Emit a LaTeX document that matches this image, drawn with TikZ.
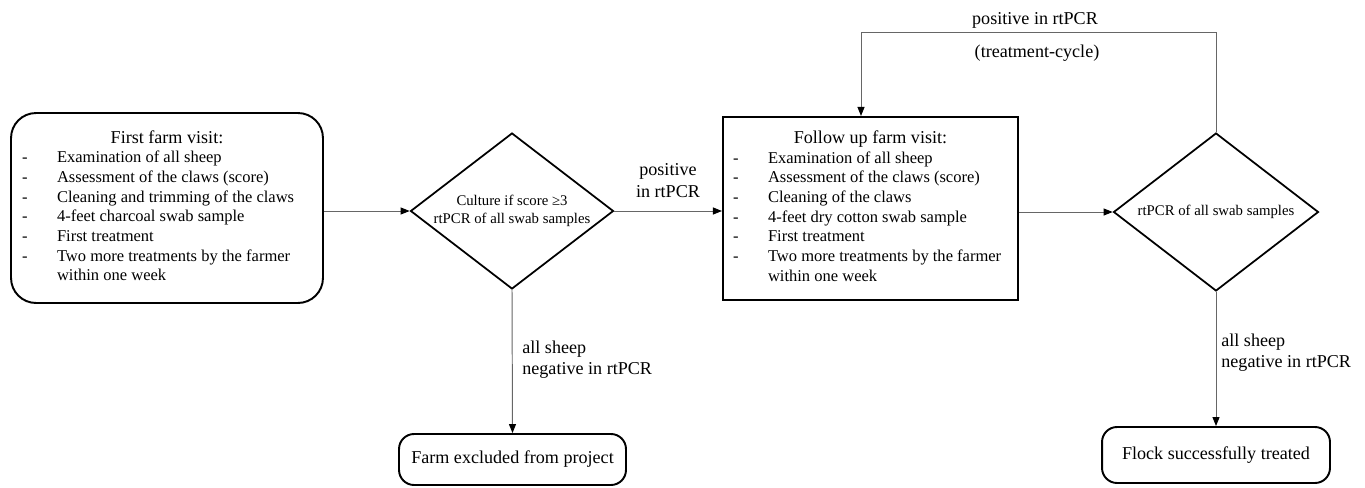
\documentclass[tikz,border=0pt]{standalone}
\usepackage{fontspec}
\setmainfont{Liberation Serif}
\usetikzlibrary{shapes.geometric,arrows.meta}

\tikzset{
  visitbox/.style={draw,line width=1.2pt,inner sep=0pt,font=\fontsize{9.4}{11.2}\selectfont},
  roundbox/.style={visitbox,line width=1.1pt,rounded corners=0.5cm},
  endbox/.style={draw,line width=1.1pt,rounded corners=0.3cm,font=\fontsize{10.3}{12}\selectfont},
  check/.style={draw,diamond,aspect=1.3,inner sep=0pt,line width=1pt,align=center,font=\fontsize{8.4}{10.2}\selectfont},
  note/.style={inner sep=0pt,font=\fontsize{10.3}{11.8}\selectfont},
  flow/.style={draw=black!60,line width=0.55pt,-{Triangle[length=1.8mm,width=1.4mm,color=black]}}
}

\begin{document}
\begin{tikzpicture}[x=0.02cm,y=-0.02cm]
\useasboundingbox (0,0) rectangle (1365,487);

\node[roundbox,minimum width=6.24cm,minimum height=3.8cm] (visit1) at (167,208) {\begin{tabular}{@{}p{0.7cm}@{}p{5.1cm}@{}}
\multicolumn{2}{@{}c@{}}{\fontsize{10.3}{11.2}\selectfont First farm visit:}\\
- & Examination of all sheep\\
- & Assessment of the claws (score)\\
- & Cleaning and trimming of the claws\\
- & 4-feet charcoal swab sample\\
- & First treatment\\
- & Two more treatments by the farmer\\
  & within one week
\end{tabular}};
\node[check,minimum width=4.06cm,minimum height=3.12cm] (check1) at (512,211) {Culture if score ≥3\\rtPCR of all swab samples};
\node[visitbox,minimum width=5.9cm,minimum height=3.66cm] (visit2) at (870.5,208.5) {\begin{tabular}{@{}p{0.7cm}@{}p{4.8cm}@{}}
\multicolumn{2}{@{}c@{}}{\fontsize{10.3}{11.2}\selectfont Follow up farm visit:}\\
- & Examination of all sheep\\
- & Assessment of the claws (score)\\
- & Cleaning of the claws\\
- & 4-feet dry cotton swab sample\\
- & First treatment\\
- & Two more treatments by the farmer\\
  & within one week
\end{tabular}};
\node[check,minimum width=4.1cm,minimum height=3.16cm] (check2) at (1216,212) {rtPCR of all swab samples};
\node[endbox,minimum width=4.54cm,minimum height=1.02cm] (excluded) at (512.5,459.5) {Farm excluded from project};
\node[endbox,minimum width=4.56cm,minimum height=1.12cm] (treated) at (1216,455) {Flock successfully treated};

\coordinate (looptop) at (1216,32);
\coordinate (loopleft) at (861,32);

\node[note,align=center,font=\fontsize{10.3}{12.5}\selectfont] (positive1) at (668,181) {positive\\in rtPCR};
\node[note] (positive2) at (1035,20) {positive in rtPCR};
\node[note] (cycle) at (1037,53) {(treatment-cycle)};
\node[note,align=left,anchor=west] (negative1) at (522,360) {all sheep\\negative in rtPCR};
\node[note,align=left,anchor=west] (negative2) at (1221,353) {all sheep\\negative in rtPCR};

\draw[flow] (visit1.east |- check1.west) -- (check1.west);
\draw[flow] (check1.east) -- (check1.east -| visit2.west);
\draw[flow] (visit2.east |- check2.west) -- (check2.west);
\draw[flow] (check2.north) -- (looptop) -- (loopleft) -- (loopleft |- visit2.north);
\draw[flow] (check1.south) -- (excluded.north);
\draw[flow] (check2.south) -- (treated.north);
\end{tikzpicture}
\end{document}
